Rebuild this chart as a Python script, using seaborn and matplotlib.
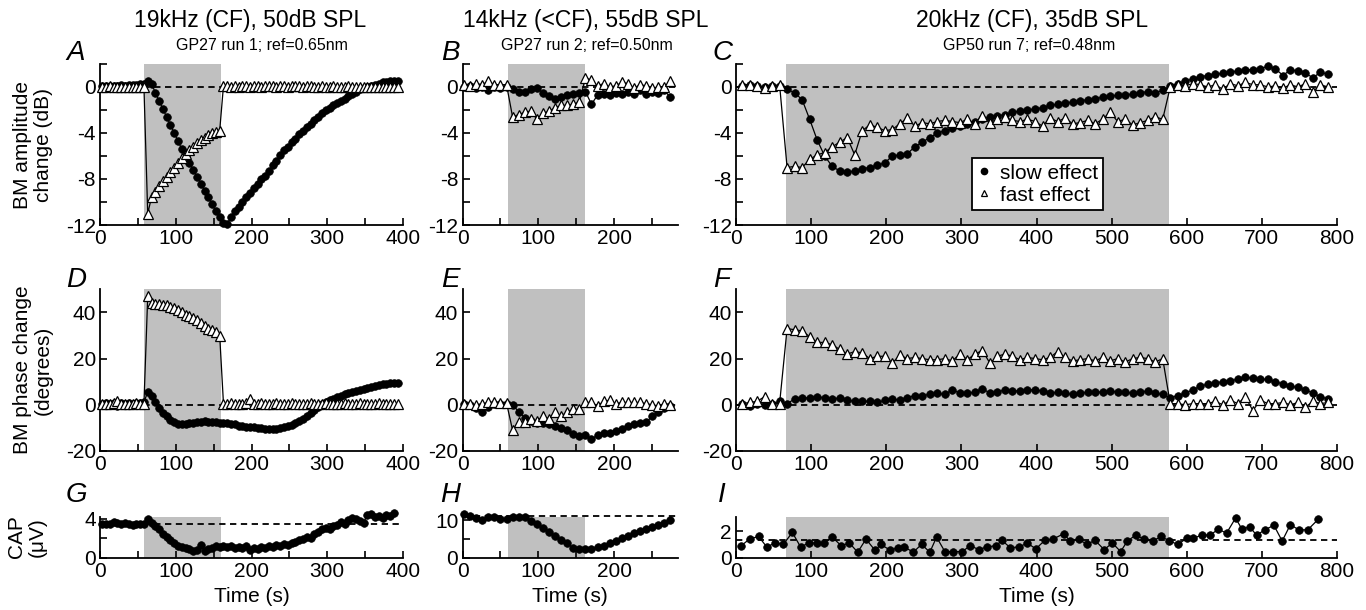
import matplotlib
matplotlib.use('Agg')
import matplotlib.pyplot as plt
import seaborn as sns
from matplotlib.lines import Line2D

# ---- data ----
# columns: A/D/G (19 kHz), B/E/H (14 kHz), C/F/I (20 kHz)
titles = ['19kHz (CF), 50dB SPL', '14kHz (<CF), 55dB SPL', '20kHz (CF), 35dB SPL']
subtitles = ['GP27 run 1; ref=0.65nm', 'GP27 run 2; ref=0.50nm', 'GP50 run 7; ref=0.48nm']
row_labels = ['BM amplitude\nchange (dB)', 'BM phase change\n(degrees)', 'CAP\n(\u03bcV)']
panel_letters = ['A', 'B', 'C', 'D', 'E', 'F', 'G', 'H', 'I']
legend_labels = ['slow effect', 'fast effect']

# stimulus (shaded) periods, s
shade_a = (58, 160)
shade_b = (60, 161)
shade_c = (67, 576)

# sample times, s
t_a = [3, 8, 13, 18, 23, 28, 33, 38, 43, 48, 53, 58, 63, 68, 73, 78, 83, 88, 93, 98,
       103, 108, 113, 118, 123, 128, 133, 138, 143, 148, 153, 158, 163, 168, 173, 178,
       183, 188, 193, 198, 203, 208, 213, 218, 223, 228, 233, 238, 243, 248, 253, 258,
       263, 268, 273, 278, 283, 288, 293, 298, 303, 308, 313, 318, 323, 328, 333, 338,
       343, 348, 353, 358, 363, 368, 373, 378, 383, 388, 393]
t_b = [2, 10, 18, 26, 34, 42, 50, 58, 66, 74, 82, 90, 98, 106, 114, 122, 130, 138, 146,
       154, 162, 170, 178, 186, 194, 202, 210, 218, 226, 234, 242, 250, 258, 266, 274]
t_c = [8, 18, 28, 38, 48, 58, 68, 78, 88, 98, 108, 118, 128, 138, 148, 158, 168, 178, 188,
       198, 208, 218, 228, 238, 248, 258, 268, 278, 288, 298, 308, 318, 328, 338, 348, 358,
       368, 378, 388, 398, 408, 418, 428, 438, 448, 458, 468, 478, 488, 498, 508, 518, 528,
       538, 548, 558, 568, 578, 588, 598, 608, 618, 628, 638, 648, 658, 668, 678, 688, 698,
       708, 718, 728, 738, 748, 758, 768, 778, 788]
t_g = t_a[:-1]
t_i = [7, 18, 30, 41, 52, 63, 75, 86, 97, 108, 117, 128, 140, 151, 162, 173, 185, 193,
       205, 216, 224, 236, 247, 258, 267, 278, 289, 301, 312, 323, 334, 346, 354, 365,
       377, 388, 399, 411, 422, 436, 445, 456, 467, 478, 490, 501, 512, 521, 532, 543,
       555, 566, 577, 588, 600, 608, 620, 631, 642, 653, 665, 673, 684, 693, 704, 716,
       727, 738, 749, 761, 775]

# BM amplitude change (dB)
a_slow = [0.1, 0.1, 0.1, 0.1, 0.1, 0.2, 0.1, 0.2, 0.2, 0.2, 0.3, 0.3,
          0.5, 0.3, -0.5, -1.2, -1.9, -2.6, -3.3, -4.0, -4.7, -5.4, -6.0, -6.6, -7.2, -7.8,
          -8.4, -9.0, -9.6, -10.2, -10.8, -11.3, -11.8, -11.9,
          -11.3, -10.8, -10.4, -10.0, -9.6, -9.2, -8.8, -8.4, -8.0, -7.7, -7.3, -6.8, -6.4,
          -5.9, -5.5, -5.2, -4.8, -4.5, -4.1, -3.8, -3.5, -3.2, -2.9, -2.6, -2.3, -2.0, -1.8,
          -1.6, -1.4, -1.2, -1.0, -0.8, -0.6, -0.4, -0.2, -0.1, 0.0, 0.1, 0.2, 0.3, 0.4, 0.4,
          0.5, 0.5, 0.5]
a_fast = [0.0, 0.0, 0.1, 0.0, 0.0, 0.0, 0.0, 0.0, 0.0, 0.0, 0.0, 0.0,
          -11.0, -9.6, -9.1, -8.6, -8.2, -7.8, -7.4, -7.0, -6.6, -6.2, -5.8, -5.5, -5.2,
          -4.9, -4.6, -4.4, -4.2, -4.0, -3.9, -3.8,
          0.1, 0.1, 0.0, 0.1, 0.0, 0.1, 0.1, 0.0, 0.1, 0.1, 0.0, 0.1, 0.1, 0.1, 0.0, 0.1,
          0.1, 0.0, 0.1, 0.1, 0.1, 0.0, 0.1, 0.1, 0.0, 0.0, 0.1, 0.0, 0.0, 0.1, 0.0, 0.0,
          0.0, 0.1, 0.0, 0.0, 0.0, 0.0, 0.0, 0.0, 0.0, 0.0, 0.0, 0.0, 0.0, 0.0, 0.0]
b_slow = [0.0, 0.1, -0.1, 0.0, -0.3, 0.0, -0.1, 0.0,
          -0.2, -0.4, -0.4, -0.2, -0.1, -0.5, -0.8, -1.0, -0.9, -0.7, -0.6, -0.5,
          -0.4, -1.5, -0.7, -0.6, -0.7, -0.5, -0.6, -0.4, -0.6, -0.3, -0.6, -0.4, -0.5,
          -0.3, -0.9]
b_fast = [0.2, 0.1, 0.3, 0.2, 0.5, 0.2, 0.2, 0.2,
          -2.6, -2.4, -2.2, -2.1, -2.8, -2.3, -2.1, -1.8, -1.6, -1.6, -1.5, -1.3,
          0.8, 0.6, 0.1, 0.3, 0.0, 0.1, 0.4, 0.3, -0.1, 0.2, 0.1, -0.1, 0.0, 0.0, 0.5]
c_slow = [0.1, 0.2, 0.1, 0.0, 0.1, 0.1,
          -0.2, -0.5, -1.1, -2.8, -4.6, -6.0, -6.9, -7.3, -7.4, -7.3, -7.1, -7.0, -6.8,
          -6.6, -6.0, -5.9, -5.8, -5.2, -4.8, -4.4, -4.0, -3.8, -3.6, -3.4, -3.2, -3.0,
          -2.8, -2.6, -2.5, -2.4, -2.2, -2.1, -2.0, -1.9, -1.8, -1.6, -1.5, -1.4, -1.3,
          -1.2, -1.1, -1.0, -0.9, -0.8, -0.7, -0.7, -0.6, -0.5, -0.4, -0.5, -0.3,
          0.1, 0.3, 0.5, 0.7, 0.9, 1.0, 1.1, 1.2, 1.3, 1.4, 1.5, 1.5, 1.6, 1.8, 1.6, 1.0,
          1.5, 1.4, 1.2, 0.8, 1.3, 1.1]
c_fast = [0.2, 0.2, 0.1, -0.1, 0.1, 0.2,
          -7.0, -6.9, -7.0, -6.3, -5.9, -5.7, -5.2, -4.8, -4.4, -5.9, -3.8, -3.3, -3.5,
          -3.8, -3.7, -3.2, -2.7, -3.4, -3.1, -3.2, -3.0, -2.9, -3.0, -3.1, -2.8, -3.2,
          -2.5, -3.1, -2.8, -2.6, -2.9, -3.0, -2.8, -3.0, -3.4, -2.7, -3.0, -2.7, -3.2,
          -3.1, -2.9, -3.2, -2.8, -2.2, -3.0, -2.8, -3.3, -3.1, -2.9, -2.6, -2.8,
          0.0, 0.2, 0.1, 0.3, 0.2, 0.0, 0.2, -0.2, 0.3, 0.1, 0.4, 0.2, 0.2, 0.0, 0.1, -0.1,
          0.2, 0.0, 0.3, -0.4, 0.2, 0.0]

# BM phase change (degrees)
d_slow = [0.5, 0.8, 0.3, 0.6, -0.5, 0.7, 0.5, 0.6, 0.5, 0.8, 0.8, 1.2,
          5.5, 4.0, 1.0, -1.5, -3.5, -5.0, -6.5, -7.5, -8.2, -8.5, -8.5, -8.0, -7.8, -7.6,
          -7.3, -7.2, -7.3, -7.5, -7.6, -7.7, -7.8, -8.0, -8.2, -8.5, -9.0, -9.3, -9.5,
          -9.6, -9.8, -10.0, -10.2, -10.4, -10.5, -10.5, -10.4, -10.2, -9.8, -9.3, -8.7,
          -8.0, -7.2, -6.2, -5.0, -3.6, -2.2, -1.0, 0.3, 1.2, 2.0, 2.7, 3.4, 4.0, 4.6, 5.2,
          5.7, 6.1, 6.5, 6.9, 7.3, 7.7, 8.0, 8.4, 8.8, 9.0, 9.3, 9.4, 9.6]
d_fast = [0.5, 0.5, 0.5, 0.6, 1.5, 0.5, 0.5, 0.5, 0.5, 0.6, 0.5, 0.5,
          47.0, 44.0, 43.5, 43.5, 43.3, 43.0, 42.5, 42.0, 41.0, 40.0, 39.0, 38.5, 37.5,
          36.5, 35.5, 34.0, 33.0, 32.5, 31.5, 30.0,
          0.5, 0.5, 0.6, 0.5, 0.5, 0.5, 0.6, 2.5, 0.5, 0.5, 0.6, 0.5, 0.5, 0.5, 0.6, 0.5,
          0.5, 0.5, 0.6, 0.5, 0.5, 0.5, 0.5, 0.6, 0.5, 0.5, 0.5, 0.6, 0.5, 0.5, 0.5, 0.5,
          0.6, 0.5, 0.5, 0.5, 0.6, 0.5, 0.5, 0.5, 0.5, 0.6, 0.5, 0.5, 0.5, 0.5, 0.5]
e_slow = [0.5, 0.0, -1.5, -3.0, -1.0, 0.5, 0.5, 0.5,
          0.0, -3.0, -5.5, -7.0, -8.0, -8.0, -8.5, -9.0, -10.0, -11.0, -12.5, -13.5,
          -13.0, -15.0, -13.0, -12.0, -12.0, -11.5, -10.5, -9.0, -8.5, -8.0, -7.5, -5.0,
          -3.0, -1.5, -0.5]
e_fast = [0.5, 0.3, 0.0, 0.5, 1.0, 1.0, 0.8, 0.8,
          -11.0, -7.5, -7.5, -6.0, -7.0, -5.0, -6.0, -3.0, -5.0, -3.0, -2.0, -2.0,
          1.0, 1.0, -0.5, 1.5, 2.0, 0.5, 1.0, 1.0, 1.0, 1.0, 0.5, 0.0, -0.5, 0.5, 0.0]
f_slow = [0.5, -0.5, 0.5, 0.0, 0.5, 1.5,
          0.5, 2.5, 3.0, 3.0, 3.5, 3.0, 2.5, 3.0, 2.0, 1.5, 1.5, 1.5, 1.0, 2.0, 2.5, 2.0,
          3.0, 4.0, 4.0, 4.5, 5.0, 4.5, 6.5, 5.0, 5.0, 5.5, 7.0, 5.0, 5.5, 6.5, 6.0, 6.0,
          6.5, 6.5, 6.0, 5.0, 5.5, 5.0, 4.5, 5.0, 5.5, 5.5, 5.5, 6.0, 5.5, 5.5, 5.0, 5.5,
          6.0, 5.0, 4.5,
          3.0, 4.0, 5.0, 6.5, 8.0, 9.0, 9.5, 10.0, 10.5, 11.0, 12.0, 11.5, 11.0, 11.0,
          10.0, 9.0, 8.0, 7.5, 6.5, 5.0, 3.5, 2.5]
f_fast = [0.5, 1.0, 1.5, 3.5, 0.5, 0.5,
          33.0, 32.5, 32.0, 29.5, 27.0, 27.0, 26.0, 24.0, 22.0, 23.0, 22.5, 20.0, 21.0,
          21.0, 18.0, 21.5, 20.0, 20.5, 20.0, 19.5, 19.5, 20.0, 19.0, 22.0, 19.5, 22.0,
          23.5, 18.0, 21.0, 22.0, 21.0, 19.5, 20.5, 20.0, 19.5, 20.5, 23.0, 20.5, 19.0,
          19.5, 20.0, 19.0, 20.5, 19.0, 20.0, 18.5, 20.0, 20.5, 20.0, 18.5, 20.0,
          0.5, 0.5, 0.0, 0.5, 0.5, 0.5, 1.5, 0.0, 2.0, 0.5, 3.5, -2.5, 2.0, 0.5, 0.5, 1.0,
          0.0, 1.0, -1.0, 1.5, 0.5, 1.0]

# CAP (uV)
g_cap = [3.4, 3.5, 3.5, 3.7, 3.6, 3.5, 3.6, 3.5, 3.3, 3.5, 3.4, 3.5,
         4.0, 3.6, 3.2, 2.9, 2.4, 2.1, 1.8, 1.5, 1.2, 1.1, 1.0, 0.9, 0.7, 0.8, 1.3, 0.7,
         0.9, 1.0, 1.2, 1.1, 1.2, 1.1, 1.2, 1.0, 1.1, 1.0, 1.2, 0.8, 1.0, 0.9, 1.1, 1.0,
         1.2, 1.1, 1.3, 1.2, 1.4, 1.3, 1.5, 1.6, 1.8, 1.9, 2.1, 2.0, 2.4, 2.6, 2.9, 3.0,
         2.9, 3.2, 3.3, 3.7, 3.5, 3.9, 4.1, 4.0, 3.8, 3.6, 4.4, 4.5, 4.2, 4.3, 4.1, 4.4,
         4.3, 4.6]
h_cap = [11.7, 11.2, 10.6, 10.2, 10.8, 10.8, 10.5, 10.3, 10.9, 11.0, 10.8, 9.8, 9.0,
         8.0, 7.0, 5.8, 4.8, 3.8, 2.5, 2.2, 2.2, 2.4, 2.7, 3.2, 3.8, 4.5, 5.2, 5.8, 6.5,
         7.2, 7.8, 8.3, 8.8, 9.4, 10.0]
i_cap = [0.9, 1.4, 1.6, 0.8, 1.1, 1.0, 1.9, 0.8, 1.1, 1.1,
         1.1, 1.55, 0.9, 1.1, 0.4, 1.4, 0.55, 1.0, 0.55, 0.75,
         0.8, 0.4, 1.0, 0.4, 1.55, 0.45, 0.45, 0.45, 0.9, 0.6,
         0.8, 0.9, 1.3, 0.75, 0.8, 1.1, 0.65, 1.3, 1.4, 1.8,
         1.25, 1.4, 1.0, 1.3, 0.6, 1.1, 0.45, 1.25, 1.7, 1.4,
         1.25, 1.6, 1.25, 1.0, 1.45, 1.45, 1.7, 1.7, 2.15, 1.85,
         3.0, 2.2, 2.3, 1.7, 2.1, 2.45, 1.25, 2.5, 2.1, 2.1,
         2.9]
cap_ref = [3.45, 11.3, 1.3]

# ---- style ----
sns.set_style('ticks')
plt.rcParams['font.family'] = ['Liberation Sans', 'DejaVu Sans']
plt.rcParams['axes.unicode_minus'] = False
plt.rcParams['axes.linewidth'] = 1.3
plt.rcParams['axes.edgecolor'] = 'black'
plt.rcParams['text.color'] = 'black'
plt.rcParams['xtick.color'] = 'black'
plt.rcParams['ytick.color'] = 'black'

W, H = 1366, 610
fig = plt.figure(figsize=(W / 100, H / 100), dpi=100)

# pixel boxes of the panels: x0, x1 per column, y_top, y_bottom per row
cols = [(100, 403), (462.5, 678), (736, 1337)]
rows = [(64, 225), (289.3, 451), (516.7, 557.5)]


def box(c, r):
    x0, x1 = cols[c]
    y0, y1 = rows[r]
    return [x0 / W, 1 - y1 / H, (x1 - x0) / W, (y1 - y0) / H]


def slow(ax, t, y):
    sns.lineplot(x=t, y=y, ax=ax, color='black', linewidth=0.9, marker='o',
                 markersize=5.5, markerfacecolor='black', markeredgecolor='black',
                 markeredgewidth=0.5, clip_on=False, zorder=3)


def fast(ax, t, y):
    sns.lineplot(x=t, y=y, ax=ax, color='black', linewidth=0.9, marker='^',
                 markersize=6.5, markerfacecolor='white', markeredgecolor='black',
                 markeredgewidth=0.9, clip_on=False, zorder=4)


def setup(ax, shade, xlim, ylim, xticks, xminor, yticks, yminor, ref):
    ax.axvspan(*shade, color='#c0c0c0', lw=0, zorder=0)
    ax.axhline(ref, color='black', lw=1.3, ls=(0, (3.5, 2.5)), zorder=2, clip_on=False)
    ax.set_xlim(*xlim)
    ax.set_ylim(*ylim)
    ax.set_xticks(xticks)
    ax.set_xticks(xminor, minor=True)
    ax.set_yticks(yticks)
    ax.set_yticks(yminor, minor=True)
    ax.set_xlabel('')
    ax.set_ylabel('')
    sns.despine(ax=ax)
    ax.tick_params(which='both', direction='in', length=5, width=1.2,
                   labelsize=15, pad=3, color='black', labelcolor='black')
    ax.set_facecolor('none')


xa = dict(xlim=(0, 400), xticks=[0, 100, 200, 300, 400], xminor=[50, 150, 250, 350])
xb = dict(xlim=(0, 284), xticks=[0, 100, 200], xminor=[50, 150, 250])
xc = dict(xlim=(0, 800), xticks=list(range(0, 801, 100)), xminor=[])
y1 = dict(ylim=(-12, 2), yticks=[-12, -8, -4, 0], yminor=[-10, -6, -2, 2], ref=0)
y2 = dict(ylim=(-20, 50), yticks=[-20, 0, 20, 40], yminor=[], ref=0)

ax = fig.add_axes(box(0, 0)); setup(ax, shade_a, **xa, **y1)
slow(ax, t_a, a_slow); fast(ax, t_a, a_fast)
ax = fig.add_axes(box(1, 0)); setup(ax, shade_b, **xb, **y1)
slow(ax, t_b, b_slow); fast(ax, t_b, b_fast)
ax = fig.add_axes(box(2, 0)); setup(ax, shade_c, **xc, **y1)
slow(ax, t_c, c_slow); fast(ax, t_c, c_fast)
handles = [Line2D([], [], ls='none', marker='o', markersize=4.5, color='black'),
           Line2D([], [], ls='none', marker='^', markersize=5, markerfacecolor='white',
                  markeredgecolor='black', markeredgewidth=0.9)]
leg = ax.legend(handles, legend_labels, loc='upper left', bbox_to_anchor=(0.392, 0.414),
                fontsize=15, frameon=True, fancybox=False, framealpha=1,
                edgecolor='black', handlelength=0.7, handletextpad=0.4,
                borderpad=0.25, labelspacing=0.15, borderaxespad=0)
leg.get_frame().set_linewidth(1.3)

ax = fig.add_axes(box(0, 1)); setup(ax, shade_a, **xa, **y2)
slow(ax, t_a, d_slow); fast(ax, t_a, d_fast)
ax = fig.add_axes(box(1, 1)); setup(ax, shade_b, **xb, **y2)
slow(ax, t_b, e_slow); fast(ax, t_b, e_fast)
ax = fig.add_axes(box(2, 1)); setup(ax, shade_c, **xc, **y2)
slow(ax, t_c, f_slow); fast(ax, t_c, f_fast)

ax = fig.add_axes(box(0, 2))
setup(ax, shade_a, **xa, ylim=(0, 4.2), yticks=[0, 4], yminor=[2], ref=cap_ref[0])
slow(ax, t_g, g_cap)
ax = fig.add_axes(box(1, 2))
setup(ax, shade_b, **xb, ylim=(0, 11), yticks=[0, 10], yminor=[5], ref=cap_ref[1])
slow(ax, t_b, h_cap)
ax = fig.add_axes(box(2, 2))
setup(ax, shade_c, **xc, ylim=(0, 3.1), yticks=[0, 2], yminor=[], ref=cap_ref[2])
slow(ax, t_i, i_cap)

# ---- text ----
title_x = [250, 586, 1032]
sub_x = [262, 587, 1029]
for i in range(3):
    fig.text(title_x[i] / W, 1 - 20 / H, titles[i], ha='center', va='center', fontsize=16.5)
    fig.text(sub_x[i] / W, 1 - 45 / H, subtitles[i], ha='center', va='center', fontsize=11.5)

letter_x = [76, 450, 722]
letter_y = [53, 280, 495]
for k, letter in enumerate(panel_letters):
    r, c = divmod(k, 3)
    fig.text(letter_x[c] / W, 1 - letter_y[r] / H, letter, ha='center', va='center',
             fontsize=20, style='italic')

label_pos = [(33, 145), (33, 370), (27, 537)]
for (x, y), lab in zip(label_pos, row_labels):
    fig.text(x / W, 1 - y / H, lab, ha='center', va='center', rotation=90,
             fontsize=15, linespacing=1.15)

for c in range(3):
    x0, x1 = cols[c]
    fig.text((x0 + x1) / 2 / W, 1 - 597 / H, 'Time (s)', ha='center', va='center',
             fontsize=15)

fig.savefig('out.png', dpi=100)
